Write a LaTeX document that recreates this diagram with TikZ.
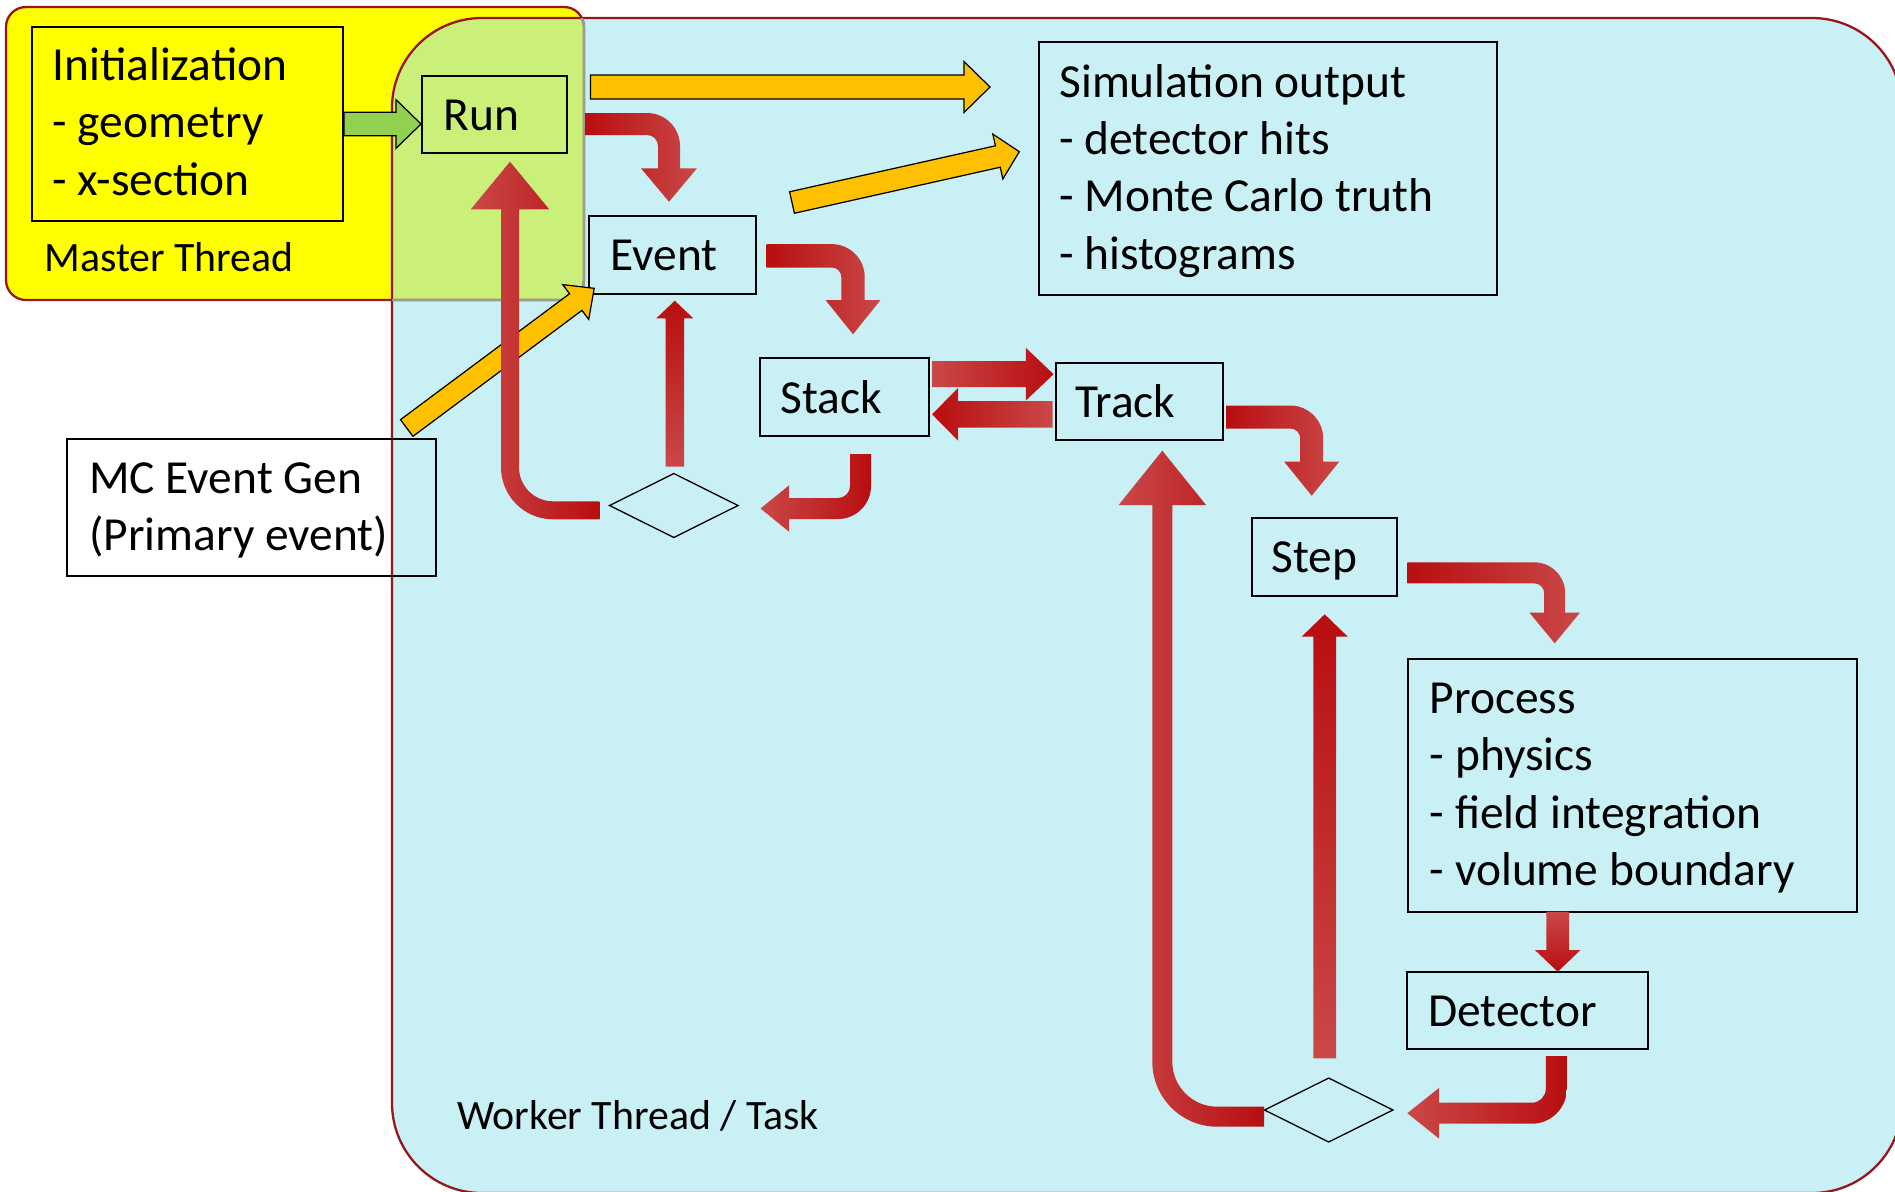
\documentclass[tikz,border=0pt]{standalone}
\usepackage{fontspec}
\setmainfont{Carlito}
\usetikzlibrary{calc,shapes.geometric}
\definecolor{wcyan}{RGB}{200,240,245}
\definecolor{myellow}{RGB}{255,255,0}
\definecolor{ovgreen}{RGB}{202,240,122}
\definecolor{maroonb}{RGB}{150,22,28}
\definecolor{mgray}{RGB}{150,158,150}
\definecolor{rdark}{RGB}{184,14,16}
\definecolor{rlight}{RGB}{202,72,72}
\definecolor{oarrow}{RGB}{255,192,0}
\definecolor{garrow}{RGB}{146,208,80}
\newcommand\fs{\rule{0pt}{24pt}}
\tikzset{
 box/.style={draw=black, line width=1.1pt, inner sep=0pt, rectangle},
 txt/.style={anchor=north west, inner sep=0pt, align=left, font=\fontsize{27pt}{32.7pt}\selectfont},
 stxt/.style={anchor=base west, inner sep=0pt, font=\fontsize{27pt}{32.7pt}\selectfont},
 smalltxt/.style={anchor=base west, inner sep=0pt, font=\fontsize{23.8pt}{28pt}\selectfont},
 dia/.style={diamond, draw=black, line width=0.75pt, inner sep=0pt, minimum width=2.58cm, minimum height=1.29cm, shape aspect=2},
 orangeA/.style={fill=oarrow, draw=black, line width=0.7pt},
 greenA/.style={fill=garrow, draw=black, line width=0.7pt},
 redLR/.style={left color=rlight, right color=rdark},
 redRL/.style={left color=rdark, right color=rlight},
 redBT/.style={top color=rdark, bottom color=rlight},
 redTB/.style={top color=rlight, bottom color=rdark},
 redRDs/.style={left color=rdark, right color=rlight},
 redDLs/.style={left color=rlight, right color=rdark},
 redLUs/.style={left color=rlight, right color=rdark},
 border/.style={line width=1.3pt}
}
% straight block arrow: style, from, to, half shaft, half head, head length (px)
\newcommand\blockarrow[6]{%
 \pgfmathsetmacro\baW{#4*0.56905}%
 \pgfmathsetmacro\baH{#5*0.56905}%
 \pgfmathsetmacro\baL{#6*0.56905}%
 \coordinate (ba-s) at #2;
 \coordinate (ba-t) at #3;
 \coordinate (ba-h) at ($(ba-t)!\baL pt!(ba-s)$);
 \path[#1] ($(ba-s)!\baW pt!90:(ba-t)$) -- ($(ba-h)!\baW pt!-90:(ba-s)$) -- ($(ba-h)!\baH pt!-90:(ba-s)$) -- (ba-t) -- ($(ba-h)!\baH pt!90:(ba-s)$) -- ($(ba-h)!\baW pt!90:(ba-s)$) -- ($(ba-s)!\baW pt!-90:(ba-t)$) -- cycle;
}
% bent right-then-down: style,x0,yc,xc,ytip,w,R,hw,hl
\newcommand\bentRD[9]{%
 \pgfmathsetmacro\bentr{#7-2*#6}%
 \path[#1] ({#2},{-(#3-#6)}) -- ({#4+#6-#7},{-(#3-#6)}) arc[start angle=90,end angle=0,radius=#7]
  -- ({#4+#6},{-(#5-#9)}) -- ({#4+#8},{-(#5-#9)}) -- ({#4},{-(#5)}) -- ({#4-#8},{-(#5-#9)}) -- ({#4-#6},{-(#5-#9)})
  -- ({#4-#6},{-(#3+#6+\bentr)}) arc[start angle=0,end angle=90,radius=\bentr] -- ({#2},{-(#3+#6)}) -- cycle;}
% bent down-then-left: style,y0,xc,yc,xtip,w,R,hw,hl
\newcommand\bentDL[9]{%
 \pgfmathsetmacro\bentr{#7-2*#6}%
 \path[#1] ({#3-#6},{-(#2)}) -- ({#3+#6},{-(#2)}) -- ({#3+#6},{-(#4+#6-#7)}) arc[start angle=0,end angle=-90,radius=#7]
  -- ({#5+#9},{-(#4+#6)}) -- ({#5+#9},{-(#4+#8)}) -- ({#5},{-(#4)}) -- ({#5+#9},{-(#4-#8)}) -- ({#5+#9},{-(#4-#6)})
  -- ({#3-#6-\bentr},{-(#4-#6)}) arc[start angle=-90,end angle=0,radius=\bentr] -- cycle;}
% bent left-then-up: style,x0,yc,xc,ytip,w,R,hw,hl
\newcommand\bentLU[9]{%
 \pgfmathsetmacro\bentr{#7-2*#6}%
 \path[#1] ({#2},{-(#3-#6)}) -- ({#2},{-(#3+#6)}) -- ({#4-#6+#7},{-(#3+#6)}) arc[start angle=-90,end angle=-180,radius=#7]
  -- ({#4-#6},{-(#5+#9)}) -- ({#4-#8},{-(#5+#9)}) -- ({#4},{-(#5)}) -- ({#4+#8},{-(#5+#9)}) -- ({#4+#6},{-(#5+#9)})
  -- ({#4+#6},{-(#3-#6-\bentr)}) arc[start angle=180,end angle=270,radius=\bentr] -- cycle;}
\begin{document}
\begin{tikzpicture}[x=0.02cm,y=0.02cm]
\useasboundingbox (0,0) rectangle (1895,-1191);
\clip (0,0) rectangle (1895,-1191);
\fill[white] (0,0) rectangle (1895,-1191);
% thread regions
\fill[wcyan, rounded corners=1.8cm] (392,-18) rectangle (1902,-1193);
\fill[myellow, rounded corners=0.4cm] (6,-7) rectangle (584,-300);
\begin{scope}
 \clip[rounded corners=1.8cm] (392,-18) rectangle (1902,-1193);
 \fill[ovgreen, rounded corners=0.4cm] (6,-7) rectangle (584,-300);
\end{scope}
\draw[maroonb, border, rounded corners=1.8cm] (392,-18) rectangle (1902,-1193);
\draw[maroonb, border, rounded corners=0.4cm] (6,-7) rectangle (584,-300);
\begin{scope}
 \clip[rounded corners=1.8cm] (392,-18) rectangle (1902,-1193);
 \draw[mgray, border, rounded corners=0.4cm] (6,-7) rectangle (584,-300);
\end{scope}
\node[smalltxt] (mlabel) at (44,-271.7) {Master Thread};
\node[smalltxt] (wlabel) at (457,-1129) {Worker Thread / Task};
% boxes
\node[box, minimum width=6.22cm, minimum height=3.88cm] (init) at (187.5,-124) {};
\node[box, minimum width=2.9cm, minimum height=1.54cm] (run) at (494.5,-114.5) {};
\node[box, minimum width=3.34cm, minimum height=1.56cm] (event) at (672.5,-255) {};
\node[box, minimum width=3.38cm, minimum height=1.56cm] (stack) at (844.5,-397) {};
\node[box, minimum width=3.34cm, minimum height=1.54cm] (track) at (1139.5,-401.5) {};
\node[box, minimum width=2.9cm, minimum height=1.56cm] (step) at (1324.5,-557) {};
\node[box, minimum width=9.16cm, minimum height=5.06cm] (sim) at (1268,-168.5) {};
\node[box, minimum width=7.38cm, minimum height=2.74cm] (mc) at (251.5,-507.5) {};
\node[box, minimum width=8.98cm, minimum height=5.06cm] (proc) at (1632.5,-785.5) {};
\node[box, minimum width=4.82cm, minimum height=1.54cm] (det) at (1527.5,-1010.5) {};
\node[dia] (dia1) at (673.8,-505.5) {};
\node[dia] (dia2) at (1328.7,-1110) {};
% texts
\node[txt] (init-t) at (52,-37.8) {\fs Initialization\\- geometry\\- x-section};
\node[txt] (sim-t) at (1059,-54.5) {\fs Simulation output\\- detector hits\\- Monte Carlo truth\\- histograms};
\node[txt] (mc-t) at (89,-450.8) {\fs MC Event Gen\\(Primary event)};
\node[txt] (proc-t) at (1429.6,-670.8) {\fs Process\\- physics\\- field integration\\- volume boundary};
\node[stxt] (run-t) at (443,-130) {Run};
\node[stxt] (event-t) at (610,-270) {Event};
\node[stxt] (stack-t) at (780,-413) {Stack};
\node[stxt] (track-t) at (1075,-417) {Track};
\node[stxt] (step-t) at (1271.4,-572.7) {Step};
\node[stxt] (det-t) at (1428,-1026) {Detector};
% outlined block arrows
\blockarrow{greenA}{(init.east)}{(init.east -| run.west)}{11.7}{24.3}{25}
\blockarrow{orangeA}{(590.6,-87)}{(990,-87)}{12}{25.5}{26}
\blockarrow{orangeA}{(792,-202.5)}{(1019.3,-151.7)}{11}{23}{22}
\blockarrow{orangeA}{(406.7,-428)}{(594.2,-288.3)}{10.4}{21.7}{23}
% red straight arrows
\blockarrow{redLR}{(932,-374.2)}{(1053.6,-374.2)}{13}{26.3}{27.7}
\blockarrow{redRL}{(1052.7,-414.3)}{(932.1,-414.3)}{13.3}{26.3}{25.9}
\blockarrow{redBT}{(674.8,-466.7)}{(674.8,-300.7)}{9.2}{18.5}{17.6}
\blockarrow{redBT}{(1324.7,-1058.3)}{(1324.7,-614.3)}{11.3}{23.1}{22.4}
\blockarrow{redTB}{(1557.7,-911.7)}{(1557.7,-971.7)}{11.4}{22.8}{21.7}
% red bent arrows
\bentRD{redRDs}{585}{124}{669}{201.7}{11}{33}{28}{33.4}
\bentRD{redRDs}{766.7}{255.8}{853}{334.3}{11.7}{33}{27.5}{34.3}
\bentRD{redRDs}{1226}{417}{1311.7}{495.7}{11.5}{33}{27.5}{34}
\bentRD{redRDs}{1407.3}{572.8}{1554.7}{643.3}{10.5}{31}{25.3}{30.7}
\bentDL{redDLs}{454}{860.5}{508.5}{760.5}{10.5}{33}{23.3}{28.7}
\bentDL{redDLs}{1056}{1556.3}{1113.2}{1407.3}{10.5}{35}{25.3}{31.7}
\bentLU{redLUs}{599.3}{510.3}{510}{161.7}{9}{52}{39.2}{47.6}
\bentLU{redLUs}{1264}{1116.7}{1162.3}{450.7}{10}{65}{43.7}{54.3}
\end{tikzpicture}
\end{document}
